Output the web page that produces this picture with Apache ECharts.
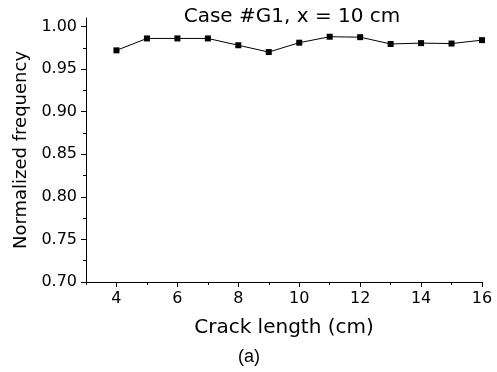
<!DOCTYPE html>
<html lang="en">
<head>
    <meta charset="UTF-8">
    <title>Case #G1</title>
    <style>
        html, body { margin: 0; padding: 0; background: #fff; }
        #main { width: 497px; height: 372px; }
    </style>
    <script src="https://cdn.jsdelivr.net/npm/echarts@6/dist/echarts.min.js"></script>
</head>
<body>
<div id="main"></div>
<script type="text/javascript">
    // data
    var crackLength = [4, 5, 6, 7, 8, 9, 10, 11, 12, 13, 14, 15, 16];
    var normFreq = [0.972, 0.986, 0.986, 0.986, 0.978, 0.970, 0.981, 0.988, 0.9875, 0.9795, 0.9805, 0.980, 0.984];
    var xMajor = [4, 6, 8, 10, 12, 14, 16];
    var xMinor = [3, 5, 7, 9, 11, 13, 15];
    var yMajor = [0.70, 0.75, 0.80, 0.85, 0.90, 0.95, 1.00];
    var yMinor = [0.725, 0.775, 0.825, 0.875, 0.925, 0.975];

    var font = 'DejaVu Sans';
    var points = crackLength.map(function (x, i) { return [x, normFreq[i]]; });

    var myChart = echarts.init(document.getElementById('main'));

    var option = {
        animation: false,
        grid: { left: 86, right: 15, top: 18, bottom: 90 },
        graphic: [
            {
                type: 'text', x: 292, y: 7,
                style: { text: 'Case #G1, x = 10 cm', font: '20px ' + font, fill: '#000', align: 'center', verticalAlign: 'top' }
            },
            {
                type: 'text', x: 249, y: 348,
                style: { text: '(a)', font: '18px Liberation Sans', fill: '#000', align: 'center', verticalAlign: 'top' }
            }
        ],
        xAxis: [{
            type: 'value', min: 3, max: 16,
            name: 'Crack length (cm)', nameLocation: 'middle', nameGap: 36,
            nameTextStyle: { fontFamily: font, fontSize: 20, color: '#000' },
            axisLine: { lineStyle: { color: '#000', width: 1 } },
            axisTick: { length: 5, lineStyle: { color: '#000' }, customValues: xMajor },
            axisLabel: { fontFamily: font, fontSize: 16, color: '#000', margin: 9, customValues: xMajor },
            splitLine: { show: false }
        }, {
            type: 'value', min: 3, max: 16, position: 'bottom',
            axisLine: { show: false },
            axisTick: { length: 3, lineStyle: { color: '#000' }, customValues: xMinor },
            axisLabel: { show: false },
            splitLine: { show: false }
        }],
        yAxis: [{
            type: 'value', min: 0.7, max: 1.01,
            name: 'Normalized frequency', nameLocation: 'middle', nameGap: 56,
            nameTextStyle: { fontFamily: font, fontSize: 18, color: '#000' },
            axisLine: { show: true, lineStyle: { color: '#000', width: 1 } },
            axisTick: { show: true, length: 5, lineStyle: { color: '#000' }, customValues: yMajor },
            axisLabel: {
                fontFamily: font, fontSize: 16, color: '#000', margin: 9, customValues: yMajor,
                formatter: function (v) { return v.toFixed(2); }
            },
            splitLine: { show: false }
        }, {
            type: 'value', min: 0.7, max: 1.01, position: 'left',
            axisLine: { show: false },
            axisTick: { show: true, length: 3, lineStyle: { color: '#000' }, customValues: yMinor },
            axisLabel: { show: false },
            splitLine: { show: false }
        }],
        series: [{
            type: 'line',
            data: points,
            symbol: 'rect',
            symbolSize: 6,
            itemStyle: { color: '#000' },
            lineStyle: { color: '#000', width: 1 }
        }]
    };

    myChart.setOption(option);
</script>
</body>
</html>
